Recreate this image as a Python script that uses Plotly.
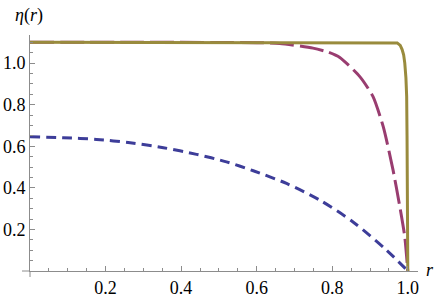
import plotly.graph_objects as go

# Blue (short dashed) curve
r_blue = [0, 0.088, 0.176, 0.265, 0.353, 0.441, 0.52, 0.591, 0.679, 0.767, 0.855, 0.944, 1.0]
eta_blue = [0.646, 0.641, 0.633, 0.617, 0.593, 0.561, 0.525, 0.482, 0.421, 0.341, 0.236, 0.10, 0.0]

# Magenta (long dashed) curve
r_mag = [0, 0.3, 0.5, 0.6, 0.661, 0.749, 0.79, 0.82, 0.873, 0.908, 0.935, 0.961, 0.979, 0.992, 1.0]
eta_mag = [1.1, 1.1, 1.099, 1.098, 1.094, 1.072, 1.052, 1.027, 0.935, 0.839, 0.694, 0.485, 0.308, 0.164, 0.0]

# Olive (solid) curve
r_olive = [0, 0.96, 0.972, 0.98, 0.985, 0.989, 0.992, 0.995, 0.997, 0.998, 0.999, 0.9995, 1.0]
eta_olive = [1.1, 1.1, 1.097, 1.085, 1.065, 1.04, 1.0, 0.93, 0.84, 0.65, 0.4, 0.2, 0.0]

x_ticks = [0.2, 0.4, 0.6, 0.8, 1.0]
y_ticks = [0.2, 0.4, 0.6, 0.8, 1.0]
tick_text = ["0.2", "0.4", "0.6", "0.8", "1.0"]

BLUE = "#3D3D99"
MAG = "#993D70"
OLIVE = "#998B3D"
AXIS = "#8c8c8c"
FONT = "Liberation Serif"

fig = go.Figure()
fig.add_trace(go.Scatter(x=r_blue, y=eta_blue, mode="lines",
                         line=dict(color=BLUE, width=3, dash="10px,6px", shape="spline", smoothing=0.8),
                         cliponaxis=False))
fig.add_trace(go.Scatter(x=r_mag, y=eta_mag, mode="lines",
                         line=dict(color=MAG, width=3, dash="24px,6px", shape="spline", smoothing=0.6),
                         cliponaxis=False))
fig.add_trace(go.Scatter(x=r_olive, y=eta_olive, mode="lines",
                         line=dict(color=OLIVE, width=3, shape="linear"),
                         cliponaxis=False))

W, H = 436, 298
ml, mr, mt, mb = 30, 18, 35, 27
pw = W - ml - mr
ph = H - mt - mb

axis_common = dict(showgrid=False, zeroline=False, automargin=False,
                   showline=True, linecolor=AXIS, linewidth=1,
                   ticks="inside", ticklen=5, tickcolor=AXIS, tickwidth=1,
                   ticktext=tick_text,
                   minor=dict(dtick=0.05, tick0=0, ticks="inside", ticklen=3, tickcolor=AXIS, tickwidth=1),
                   tickfont=dict(family=FONT, size=18, color="black"))

fig.update_layout(
    width=W, height=H,
    margin=dict(l=ml, r=mr, t=mt, b=mb, pad=0, autoexpand=False),
    paper_bgcolor="white", plot_bgcolor="white",
    showlegend=False,
    font=dict(family=FONT, size=18, color="black"),
    xaxis=dict(range=[0, 1.027], tickvals=x_ticks, **axis_common),
    yaxis=dict(range=[0, 1.135], tickvals=y_ticks, **axis_common),
)

# small axis overshoots past the origin
fig.add_shape(type="line", xref="paper", yref="paper",
              x0=-8 / pw, x1=0, y0=0, y1=0, line=dict(color=AXIS, width=1))
fig.add_shape(type="line", xref="paper", yref="paper",
              x0=0, x1=0, y0=-6 / ph, y1=0, line=dict(color=AXIS, width=1))

fig.add_annotation(text="<i>η</i>(<i>r</i>)", xref="paper", yref="paper",
                   x=-1 / pw, y=(ph + mt - 15) / ph, xanchor="center", yanchor="middle",
                   showarrow=False, font=dict(family=FONT, size=18, color="black"))
fig.add_annotation(text="<i>r</i>", xref="paper", yref="paper",
                   x=(430 - ml) / pw, y=1 / ph, xanchor="center", yanchor="middle",
                   showarrow=False, font=dict(family=FONT, size=18, color="black"))

fig.write_html("out.html", config={"displayModeBar": False},
               post_script="document.body.style.margin='0';")
